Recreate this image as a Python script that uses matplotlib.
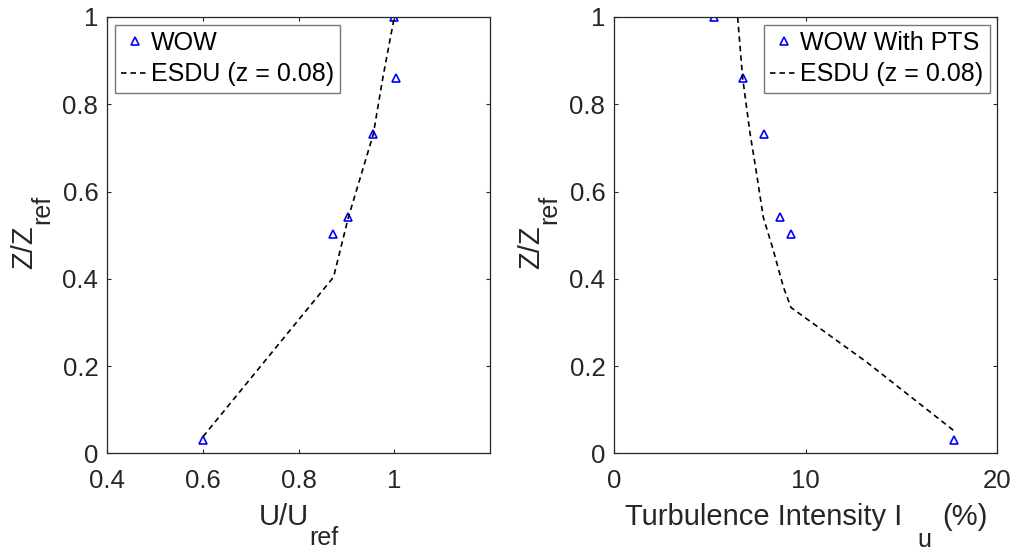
import matplotlib
matplotlib.use("Agg")
import matplotlib.pyplot as plt

plt.rcParams['font.family'] = ['Liberation Sans', 'DejaVu Sans']

# ---- data: left panel (mean velocity profile) ----
wow_u = [1.000, 1.003, 0.956, 0.904, 0.872, 0.600]
wow_z = [1.000, 0.861, 0.731, 0.541, 0.502, 0.031]
esdu_u = [0.600, 0.873, 0.887, 0.904, 0.956, 0.976, 1.000]
esdu_uz = [0.038, 0.404, 0.466, 0.541, 0.731, 0.861, 1.000]

# ---- data: right panel (turbulence intensity) ----
pts_i = [5.19, 6.72, 7.82, 8.63, 9.23, 17.72]
pts_z = [1.000, 0.861, 0.731, 0.541, 0.502, 0.031]
esdu_i = [17.70, 13.18, 9.23, 8.83, 8.30, 7.78, 7.43, 7.09, 6.70, 6.44]
esdu_iz = [0.053, 0.209, 0.334, 0.381, 0.466, 0.541, 0.641, 0.733, 0.861, 1.000]

left_xticks = [0.4, 0.6, 0.8, 1.0]
left_xticklabels = ['0.4', '0.6', '0.8', '1']
right_xticks = [0, 10, 20]
yticks = [0, 0.2, 0.4, 0.6, 0.8, 1.0]
yticklabels = ['0', '0.2', '0.4', '0.6', '0.8', '1']

TXT = '#262626'
W, H = 1017, 550
fig = plt.figure(figsize=(W / 100, H / 100), dpi=100)
axL = fig.add_axes([107.3 / W, 1 - 453.3 / H, (490 - 107.3) / W, (453.3 - 17) / H])
axR = fig.add_axes([614.3 / W, 1 - 453.3 / H, (997.3 - 614.3) / W, (453.3 - 17) / H])


def style(ax):
    for s in ax.spines.values():
        s.set_color(TXT)
        s.set_linewidth(0.9)
    ax.tick_params(direction='in', top=True, right=True, length=3.2, width=0.8,
                   colors=TXT, labelsize=18.5)
    ax.tick_params(axis='x', pad=11)
    ax.tick_params(axis='y', pad=6.5)
    ax.set_ylim(0, 1)
    ax.set_yticks(yticks)
    ax.set_yticklabels(yticklabels)


mk = dict(linestyle='none', marker='^', markersize=6, markerfacecolor='none',
          markeredgecolor='blue', markeredgewidth=1.2)
ln = dict(color='black', linewidth=1.2, dashes=(3.3, 2.4))

axL.plot(wow_u, wow_z, label='WOW', **mk)
axL.plot(esdu_u, esdu_uz, label='ESDU (z = 0.08)', **ln)
axL.set_xlim(0.4, 1.2)
axL.set_xticks(left_xticks)
axL.set_xticklabels(left_xticklabels)
style(axL)

axR.plot(pts_i, pts_z, label='WOW With PTS', **mk)
axR.plot(esdu_i, esdu_iz, label='ESDU (z = 0.08)', **ln)
axR.set_xlim(0, 20)
axR.set_xticks(right_xticks)
style(axR)

for ax, loc in ((axL, 'upper left'), (axR, 'upper right')):
    leg = ax.legend(loc=loc, fontsize=18, frameon=True, fancybox=False,
                    edgecolor='#777777', framealpha=1, handlelength=1.1,
                    handletextpad=0.1, borderpad=0.25, labelspacing=0.3,
                    borderaxespad=0.3)
    leg.get_frame().set_linewidth(1.0)

# ---- axis labels with MATLAB-style (large, low) subscripts ----
fig.canvas.draw()
renderer = fig.canvas.get_renderer()
MAIN, SUB = 21, 18


def compound_label(parts, center_px, base_px, vertical=False):
    """parts: list of (text, fontsize, drop_px, gap_before_px)."""
    items = []
    for s, size, drop, gap in parts:
        t = fig.text(0, 0, s, fontsize=size, color=TXT, ha='left', va='baseline',
                     rotation=90 if vertical else 0, rotation_mode='anchor')
        bb = t.get_window_extent(renderer)
        items.append((t, bb.height if vertical else bb.width, drop, gap))
    total = sum(w + g for _, w, _, g in items)
    pos = center_px - total / 2 if not vertical else center_px + total / 2
    for t, w, drop, gap in items:
        if vertical:
            pos -= gap
            t.set_position(((base_px + drop) / W, 1 - pos / H))
            pos -= w
        else:
            pos += gap
            t.set_position((pos / W, 1 - (base_px + drop) / H))
            pos += w


compound_label([('U/U', MAIN, 0, 0), ('ref', SUB, 20, 1)], 298.5, 525)
compound_label([('Turbulence Intensity I', MAIN, 0, 0), ('u', SUB, 22, 15),
                ('(%)', MAIN, 0, 11)], 806, 525)
for off in (0, 507):
    compound_label([('Z/Z', MAIN, 0, 0), ('ref', SUB, 18, 1)], 232, 31.7 + off,
                   vertical=True)

fig.savefig('out.png', dpi=100)
